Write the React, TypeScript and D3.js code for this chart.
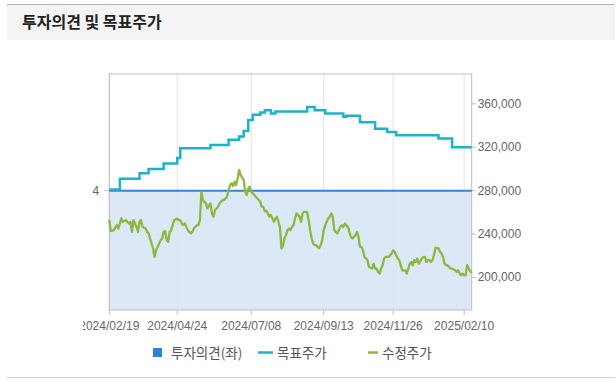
import React from 'react';
import * as d3 from 'd3';

// x positions are trading-day indices (0 = 2024/02/19)
const xTickIndex = [0, 45, 94, 142, 188, 235];
const xTickLabels = ['2024/02/19', '2024/04/24', '2024/07/08', '2024/09/13', '2024/11/26', '2025/02/10'];
const priceTicks = [200000, 240000, 280000, 320000, 360000];
const opinionTicks = [4];
const lastIndex = 240;

// 투자의견 (left axis)
const opinion: [number, number][] = [[0, 4], [240, 4]];

// 목표주가 (step changes)
const targetPrice: [number, number][] = [
  [0, 281000], [7, 291000], [20, 296000], [26, 300000], [36, 305000], [45, 310000], [47, 319000],
  [67, 322000], [79, 327000], [86, 330000], [89, 335000], [92, 345000], [95, 350000], [100, 352000],
  [103, 354000], [107, 351000], [110, 353000], [131, 357000], [136, 354000], [143, 351000],
  [155, 348000], [157, 349000], [166, 343000], [176, 337000], [184, 334000], [190, 331000],
  [218, 328000], [227, 320000], [240, 320000],
];

// 수정주가
const adjPrice: [number, number][] = [
  [0, 253000], [1, 242700], [3, 243600], [5, 248200], [6, 245200], [8, 254400], [9, 251300], [11, 252800],
  [13, 249800], [14, 251300], [15, 242000], [16, 252800], [18, 246600], [19, 242000], [20, 251300],
  [21, 252800], [22, 246600], [24, 245200], [25, 242000], [26, 240600], [27, 235900], [28, 231300],
  [29, 226700], [30, 218900], [31, 225100], [32, 228200], [34, 234400], [35, 235900], [36, 242000],
  [37, 242700], [38, 234400], [39, 232800], [40, 242000], [41, 243600], [42, 248200], [43, 252800],
  [45, 254400], [46, 252800], [47, 252800], [48, 249800], [49, 248200], [50, 249800], [51, 246600],
  [52, 243600], [53, 242000], [54, 240600], [55, 242000], [56, 245200], [57, 246600], [58, 248200],
  [59, 248200], [60, 252800], [61, 279000], [62, 271300], [63, 269700], [64, 268300], [65, 263600],
  [67, 268300], [68, 259000], [69, 255900], [70, 262100], [71, 263600], [72, 265100], [73, 268300],
  [74, 269700], [75, 271300], [76, 271300], [78, 274400], [79, 280600], [80, 285200], [81, 286700],
  [82, 284200], [83, 288200], [84, 285200], [85, 291400], [86, 299000], [87, 294400], [89, 289800],
  [90, 279000], [91, 275900], [92, 282100], [93, 283600], [94, 279000], [95, 277500], [96, 275900],
  [97, 274400], [99, 271300], [100, 269700], [101, 265100], [102, 265100], [103, 261000], [104, 261500],
  [105, 259000], [106, 255900], [107, 257500], [109, 251300], [110, 254400], [111, 255900], [112, 251300],
  [113, 246600], [114, 226700], [115, 229000], [116, 235900], [117, 239000], [118, 243600], [119, 245200],
  [120, 243600], [121, 246600], [122, 248200], [123, 254400], [124, 259000], [125, 257500], [126, 255900],
  [127, 251300], [128, 259000], [129, 260500], [131, 260500], [132, 252800], [133, 243600], [134, 235900],
  [135, 231300], [136, 229700], [137, 229700], [138, 228200], [139, 227000], [140, 229700], [141, 234400],
  [142, 243600], [143, 248200], [144, 251300], [145, 254400], [146, 255900], [147, 259000], [148, 255900],
  [149, 243600], [150, 242000], [151, 240600], [153, 246600], [154, 248200], [155, 246600], [156, 249800],
  [157, 248200], [158, 246600], [159, 242000], [160, 237400], [161, 235900], [163, 239000], [164, 242000],
  [165, 237400], [166, 228200], [167, 228200], [168, 225100], [169, 218900], [170, 217500], [171, 215900],
  [172, 209700], [174, 208200], [175, 212800], [176, 208200], [177, 208200], [178, 205100], [179, 203600],
  [180, 208200], [181, 211300], [182, 217500], [183, 218900], [185, 218900], [186, 220500], [187, 222100],
  [188, 225100], [189, 223600], [190, 220500], [191, 217500], [192, 215900], [193, 211300], [194, 206600],
  [196, 206600], [197, 203600], [198, 208200], [199, 212800], [200, 214300], [201, 211300], [202, 215900],
  [203, 214300], [204, 217500], [205, 212800], [207, 217500], [208, 218900], [209, 218900], [210, 214300],
  [211, 215900], [212, 215900], [213, 214300], [214, 215900], [215, 220500], [216, 227500], [218, 226700],
  [219, 223600], [220, 222100], [221, 218900], [222, 212800], [223, 211300], [224, 211300], [225, 209700],
  [226, 208200], [227, 208200], [229, 206600], [230, 205100], [231, 206600], [232, 203600], [233, 202000],
  [234, 203600], [235, 202000], [236, 202000], [237, 211300], [238, 208200], [240, 204000],
];

const W = 616;
const H = 385;
const plot = { left: 109.3, right: 471.7, top: 74, bottom: 310 };

const COLORS = {
  opinion: '#3a7fd8',
  fill: '#dde8f7',
  target: '#1cb3c8',
  price: '#8cb83e',
  axis: '#bdbdbd',
  grid: '#dfe3ea',
  text: '#666666',
};

export default function App() {
  const x = d3.scaleLinear().domain([0, lastIndex]).range([plot.left, plot.right]);
  const y = d3.scaleLinear().domain([170000, 387500]).range([plot.bottom, plot.top]);
  const yL = d3.scaleLinear().domain([0, 4]).range([plot.bottom, y(280000)]);

  const targetLine = d3
    .line<[number, number]>()
    .x((d) => x(d[0]))
    .y((d) => y(d[1]))
    .curve(d3.curveStepAfter);
  const priceLine = d3
    .line<[number, number]>()
    .x((d) => x(d[0]))
    .y((d) => y(d[1]));
  const opLine = d3
    .line<[number, number]>()
    .x((d) => x(d[0]))
    .y((d) => yL(d[1]));
  const opArea = d3
    .area<[number, number]>()
    .x((d) => x(d[0]))
    .y0(plot.bottom)
    .y1((d) => yL(d[1]));
  const fmt = d3.format(',');

  const sans = '"Liberation Sans", Arial, sans-serif';
  const kr = '"Noto Sans CJK KR", "Noto Sans", sans-serif';

  return (
    <div style={{ position: 'absolute', left: 0, top: 0, width: W, height: H, background: '#fff' }}>
      <svg width={W} height={H} style={{ display: 'block' }}>
        <defs>
          <clipPath id="xlabclip">
            <rect x={83} y={300} width={W - 83} height={50} />
          </clipPath>
        </defs>
        {/* title band */}
        <rect x={7} y={5} width={608} height={35} fill="#f4f4f4" />
        <line x1={7} x2={615} y1={4.5} y2={4.5} stroke="#b5b5b5" strokeWidth={1.2} />
        <text x={22} y={28} fontFamily={kr} fontSize={16} fontWeight="bold" fill="#222">
          투자의견 및 목표주가
        </text>
        <line x1={7} x2={615} y1={377.5} y2={377.5} stroke="#cfcfcf" strokeWidth={1} />

        {/* opinion area */}
        <path d={opArea(opinion) || ''} fill={COLORS.fill} />

        {/* vertical grid */}
        {xTickIndex.map((t, i) => (
          <line key={'g' + i} x1={x(t)} x2={x(t)} y1={plot.top} y2={plot.bottom} stroke={COLORS.grid} strokeWidth={1} />
        ))}

        {/* frame */}
        <rect x={plot.left} y={plot.top} width={plot.right - plot.left} height={plot.bottom - plot.top} fill="none" stroke={COLORS.axis} strokeWidth={1} />

        {/* x ticks and labels */}
        {xTickIndex.map((t, i) => (
          <line key={'xt' + i} x1={x(t)} x2={x(t)} y1={plot.bottom} y2={plot.bottom + 5} stroke={COLORS.axis} />
        ))}
        <g clipPath="url(#xlabclip)">
          {xTickIndex.map((t, i) => (
            <text key={'xl' + i} x={x(t)} y={330} textAnchor="middle" fontFamily={sans} fontSize={12} fill={COLORS.text}>
              {xTickLabels[i]}
            </text>
          ))}
        </g>

        {/* right axis */}
        {priceTicks.map((v, i) => (
          <g key={'yt' + i}>
            <line x1={plot.right} x2={plot.right + 4} y1={y(v)} y2={y(v)} stroke={COLORS.axis} />
            <text x={plot.right + 6} y={y(v) + 4} fontFamily={sans} fontSize={12} fill={COLORS.text}>
              {fmt(v)}
            </text>
          </g>
        ))}

        {/* left axis */}
        {opinionTicks.map((v, i) => (
          <g key={'yl' + i}>
            <line x1={plot.left - 5} x2={plot.left} y1={yL(v)} y2={yL(v)} stroke={COLORS.axis} />
            <text x={plot.left - 10} y={yL(v) + 4} textAnchor="end" fontFamily={sans} fontSize={12} fill={COLORS.text}>
              {v}
            </text>
          </g>
        ))}

        {/* lines */}
        <path d={opLine(opinion) || ''} fill="none" stroke={COLORS.opinion} strokeWidth={2} />
        <path d={targetLine(targetPrice) || ''} fill="none" stroke={COLORS.target} strokeWidth={2.5} />
        <path d={priceLine(adjPrice) || ''} fill="none" stroke={COLORS.price} strokeWidth={2.3} strokeLinejoin="round" />

        {/* legend */}
        <rect x={153} y={348} width={9} height={9} fill="#2f7fe0" />
        <text x={171} y={357.5} fontFamily={kr} fontSize={13.5} fill="#555">투자의견(좌)</text>
        <line x1={258} x2={273} y1={352.5} y2={352.5} stroke={COLORS.target} strokeWidth={2.5} />
        <text x={277} y={357.5} fontFamily={kr} fontSize={13.5} fill="#555">목표주가</text>
        <line x1={368} x2={378} y1={352.5} y2={352.5} stroke={COLORS.price} strokeWidth={2.5} />
        <text x={382} y={357.5} fontFamily={kr} fontSize={13.5} fill="#555">수정주가</text>
      </svg>
    </div>
  );
}
